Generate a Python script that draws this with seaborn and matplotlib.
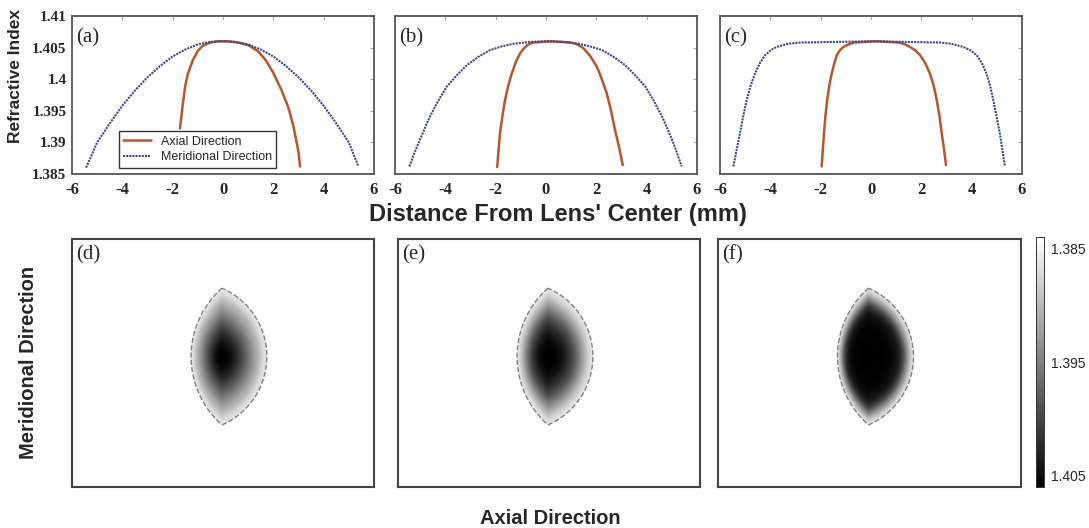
import numpy as np
import pandas as pd
import matplotlib
matplotlib.use("Agg")
from matplotlib import pyplot as plt
import seaborn as sns


# Profiles (distance in mm, refractive index)

merid_a_x = [-5.44, -5.0, -4.5, -4.0, -3.5, -3.0, -2.5, -2.0, -1.5, -1.0, -0.5, 0.0,
             0.5, 1.0, 1.5, 2.0, 2.5, 3.0, 3.5, 4.0, 4.5, 5.0, 5.38]
merid_a_n = [1.3860, 1.3900, 1.3930, 1.3958, 1.3982, 1.4003, 1.4021, 1.4036, 1.4047, 1.4055, 1.4059, 1.4060,
             1.4059, 1.4055, 1.4047, 1.4036, 1.4021, 1.4003, 1.3982, 1.3958, 1.3930, 1.3900, 1.3862]
axial_a_x = [-1.71, -1.6, -1.5, -1.4, -1.2, -1.0, -0.8, -0.5, -0.2, 0.2, 0.6, 1.0,
             1.4, 1.7, 2.0, 2.3, 2.6, 2.8, 3.0, 3.06]
axial_a_n = [1.3922, 1.3960, 1.3990, 1.4008, 1.4030, 1.4045, 1.4053, 1.4058, 1.4060, 1.4060, 1.4058, 1.4054,
             1.4044, 1.4030, 1.4010, 1.3985, 1.3955, 1.3925, 1.3885, 1.3862]

merid_b_x = [-5.43, -5.22, -5.01, -4.81, -4.61, -4.28, -3.95, -3.55, -3.15, -2.7, -2.23, -1.75, -1.30,
             -0.64, 0.0, 0.64, 1.30, 1.75, 2.23, 2.7, 3.15, 3.55, 3.95, 4.28, 4.61, 4.81, 5.01,
             5.2, 5.39]
merid_b_n = [1.3862, 1.3884, 1.3904, 1.3923, 1.3941, 1.3966, 1.3988, 1.4006, 1.4022, 1.4035, 1.4046, 1.4052,
             1.4056, 1.4059, 1.4060, 1.4059, 1.4056, 1.4052, 1.4046, 1.4035, 1.4022, 1.4006, 1.3988,
             1.3966, 1.3941, 1.3923, 1.3904, 1.3884, 1.3862]
axial_b_x = [-1.94, -1.83, -1.73, -1.63, -1.5, -1.36, -1.2, -1.03, -0.85, -0.70, -0.5, 0.2,
             1.02, 1.25, 1.49, 1.75, 2.02, 2.2, 2.41, 2.58, 2.74, 2.9, 3.05]
axial_b_n = [1.3861, 1.3914, 1.3942, 1.3967, 1.3990, 1.4009, 1.4027, 1.4041, 1.4050, 1.4055, 1.4058, 1.4060,
             1.4058, 1.4055, 1.4049, 1.4037, 1.4020, 1.4002, 1.3978, 1.3951, 1.3920, 1.3893, 1.3864]

merid_c_x = [-5.47, -5.34, -5.21, -5.08, -4.94, -4.78, -4.61, -4.41, -4.21, -3.98, -3.75, -3.3, -2.82, 0.0,
             2.74, 3.2, 3.67, 3.94, 4.20, 4.40, 4.59, 4.73, 4.86, 4.99, 5.12, 5.22, 5.32]
merid_c_n = [1.3862, 1.3888, 1.3914, 1.3941, 1.3967, 1.3990, 1.4009, 1.4026, 1.4038, 1.4046, 1.4051, 1.4056,
             1.4058, 1.4060, 1.4058, 1.4056, 1.4051, 1.4046, 1.4038, 1.4026, 1.4009, 1.3990, 1.3967,
             1.3941, 1.3914, 1.3888, 1.3862]
axial_c_x = [-1.96, -1.87, -1.81, -1.74, -1.66, -1.56, -1.46, -1.36, -1.23, -1.10, -0.9, -0.70, 0.2,
             1.15, 1.35, 1.55, 1.75, 1.95, 2.15, 2.34, 2.49, 2.61, 2.72, 2.81, 2.9, 2.98]
axial_c_n = [1.3862, 1.3914, 1.3942, 1.3967, 1.3990, 1.4009, 1.4025, 1.4038, 1.4046, 1.4051, 1.4055, 1.4058,
             1.4060, 1.4058, 1.4055, 1.4051, 1.4046, 1.4038, 1.4026, 1.4009, 1.3990, 1.3967, 1.3942,
             1.3914, 1.3890, 1.3864]

x_ticks = [-6, -4, -2, 0, 2, 4, 6]
x_tick_labels = ['-6', '-4', '-2', '0', '2', '4', '6']
y_ticks = [1.385, 1.39, 1.395, 1.4, 1.405, 1.41]
y_tick_labels = ['1.385', '1.39', '1.395', '1.4', '1.405', '1.41']
cbar_ticks = [1.385, 1.395, 1.405]
cbar_tick_labels = ['1.385', '1.395', '1.405']
top_labels = ['(a)', '(b)', '(c)']
bottom_labels = ['(d)', '(e)', '(f)']

# lens outline in the image panels (mm)
lens_half_height = 5.45
lens_front = 2.46
lens_back = 3.57


def lens_field(merid_x, merid_n, gx, gy):
    # scale factor s: point (x, y) lies on the outline scaled by s
    X, Y = np.meshgrid(gx, gy)
    h = lens_half_height
    r2 = X ** 2 + Y ** 2
    s_all = []
    for a, sign in [(lens_front, 1.0), (lens_back, -1.0)]:
        R = (h ** 2 + a ** 2) / (2 * a)
        c = sign * (R - a)
        s_all.append((-c * X + np.sqrt(c ** 2 * X ** 2 + h ** 2 * r2)) / h ** 2)
    s = np.maximum(s_all[0], s_all[1])
    mx = np.array(merid_x)
    mn = np.array(merid_n)
    keep = mx >= 0
    # profile looked up along the normalised radius
    rho = 1 - np.clip(1 - s, 0, 1) ** 1.5
    field = np.interp(rho * mx[keep].max(), mx[keep], mn[keep])
    return field, s


sns.set_style("white")

fig = plt.figure(figsize=(10.89, 5.28), dpi=100)

serif = ['Liberation Serif', 'DejaVu Serif']
sans = ['Liberation Sans', 'DejaVu Sans']

top_lefts = [72, 395, 720]
profiles = [(merid_a_x, merid_a_n, axial_a_x, axial_a_n),
            (merid_b_x, merid_b_n, axial_b_x, axial_b_n),
            (merid_c_x, merid_c_n, axial_c_x, axial_c_n)]

for i, (left, prof) in enumerate(zip(top_lefts, profiles)):
    ax = fig.add_axes([left / 1089, (528 - 174) / 528, 302 / 1089, 158 / 528])
    mx, mn, axx, axn = prof
    sns.lineplot(x=axx, y=axn, ax=ax, color='#b8562c', linewidth=1.8,
                 label='Axial Direction' if i == 0 else None, sort=False)
    sns.lineplot(x=mx, y=mn, ax=ax, color='#3f468f', linewidth=1.5,
                 linestyle=(0, (1, 0.5)), label='Meridional Direction' if i == 0 else None,
                 sort=False)
    ax.set_xlim(-6, 6)
    ax.set_ylim(1.385, 1.41)
    ax.set_xticks(x_ticks)
    ax.set_xticklabels(x_tick_labels, fontfamily=serif, fontweight='bold', fontsize=12)
    ax.set_yticks(y_ticks)
    if i == 0:
        ax.set_yticklabels(y_tick_labels, fontfamily=serif, fontweight='bold', fontsize=11)
        leg = ax.legend(loc='lower left', bbox_to_anchor=(0.155, 0.04), borderaxespad=0,
                        frameon=True, fancybox=False, prop={'family': sans, 'size': 9},
                        handlelength=2.2, borderpad=0.35, labelspacing=0.3)
        leg.get_frame().set_edgecolor('black')
        leg.get_frame().set_linewidth(1.0)
    else:
        ax.set_yticklabels([])
    ax.tick_params(direction='in', length=3, color='#aaaaaa', top=True, right=True,
                   pad=4)
    ax.tick_params(axis='x', pad=6)
    for sp in ax.spines.values():
        sp.set_color('#555555')
        sp.set_linewidth(1.3)
    ax.text(0.013, 0.92, top_labels[i], transform=ax.transAxes, va='top', ha='left',
            fontfamily=serif, fontsize=15)

# image panels
bottom_lefts = [72, 398, 718]
bottom_widths = [302, 302, 303]
gx = np.linspace(-11.9, 12.06, 302)
gy = np.linspace(9.33, -10.36, 248)
cax = fig.add_axes([1036 / 1089, (528 - 487) / 528, 8 / 1089, 250 / 528])

for i, (left, w, prof) in enumerate(zip(bottom_lefts, bottom_widths, profiles)):
    ax = fig.add_axes([left / 1089, (528 - 487) / 528, w / 1089, 248 / 528])
    field, s = lens_field(prof[0], prof[1], gx, gy)
    df = pd.DataFrame(field)
    sns.heatmap(df, ax=ax, cmap='gray_r', vmin=1.384, vmax=1.406, mask=(s > 1.0),
                cbar=(i == 0), cbar_ax=cax if i == 0 else None,
                xticklabels=False, yticklabels=False, rasterized=True)
    ax.contour(np.arange(len(gx)) + 0.5, np.arange(len(gy)) + 0.5, s, levels=[1.0],
               colors='#808080', linewidths=1.0, linestyles='--')
    for sp in ax.spines.values():
        sp.set_visible(True)
        sp.set_color('#444444')
        sp.set_linewidth(1.5)
    ax.text(0.013, 0.975, bottom_labels[i], transform=ax.transAxes, va='top', ha='left',
            fontfamily=serif, fontsize=15)

cax.set_yticks(cbar_ticks)
cax.set_yticklabels(cbar_tick_labels, fontfamily=sans, fontsize=10)
cax.invert_yaxis()
cax.tick_params(length=0, pad=5)
for sp in cax.spines.values():
    sp.set_visible(True)
    sp.set_color('#333333')
    sp.set_linewidth(0.6)

fig.text(16 / 1089, 1 - 76 / 528, 'Refractive Index', rotation=90, ha='center', va='center',
         fontfamily=sans, fontweight='bold', fontsize=12.5)
fig.text(558 / 1089, 1 - 214 / 528, "Distance From Lens' Center (mm)", ha='center', va='center',
         fontfamily=sans, fontweight='bold', fontsize=17)
fig.text(29 / 1089, 1 - 362 / 528, 'Meridional Direction', rotation=90, ha='center', va='center',
         fontfamily=sans, fontweight='bold', fontsize=14.5)
fig.text(550 / 1089, 1 - 518 / 528, 'Axial Direction', ha='center', va='center',
         fontfamily=sans, fontweight='bold', fontsize=14.5)

fig.savefig('out.png', dpi=100)
